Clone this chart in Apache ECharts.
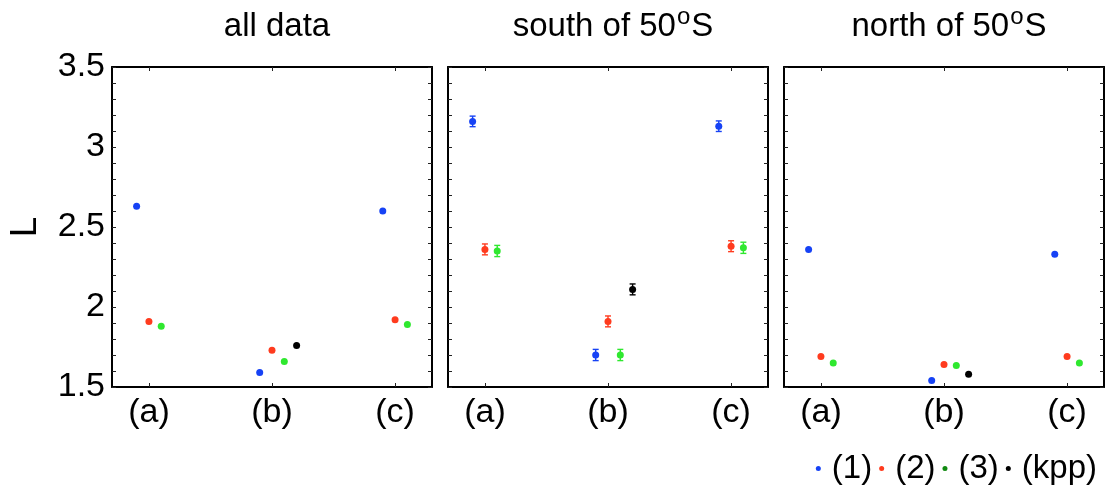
<!DOCTYPE html>
<html>
<head>
<meta charset="utf-8">
<script src="https://cdn.jsdelivr.net/npm/echarts@6/dist/echarts.min.js"></script>
<style>
  html, body { margin: 0; padding: 0; background: #fff; }
  #chart { width: 1106px; height: 492px; }
</style>
</head>
<body>
<div id="chart"></div>
<script>
// Category labels along each panel's x axis
const groups = ['(a)', '(b)', '(c)'];
// Series names shown in the legend
const seriesNames = ['(1)', '(2)', '(3)', '(kpp)'];
// Panel headings ({sup|o} is drawn as a raised "o")
const panelTitles = ['all data', 'south of 50{sup|o}S', 'north of 50{sup|o}S'];
// Y-axis range
const yMin = 1.5, yMax = 3.5, yStep = 0.5;

// all data
const allData1 = [2.63, 1.59, 2.60];
const allData2 = [1.91, 1.73, 1.92];
const allData3 = [1.88, 1.66, 1.89];
const allDataKpp = [null, 1.76, null];

// south of 50S (with error bars)
const south1 = [3.16, 1.70, 3.13];
const south2 = [2.36, 1.91, 2.38];
const south3 = [2.35, 1.70, 2.37];
const southKpp = [null, 2.11, null];
const southErr1 = [0.033, 0.035, 0.033];
const southErr2 = [0.034, 0.034, 0.034];
const southErr3 = [0.035, 0.035, 0.035];
const southErrKpp = [null, 0.034, null];

// north of 50S
const north1 = [2.36, 1.54, 2.33];
const north2 = [1.69, 1.64, 1.69];
const north3 = [1.65, 1.635, 1.65];
const northKpp = [null, 1.58, null];

const panels = [
  { vals: [allData1, allData2, allData3, allDataKpp], errs: null },
  { vals: [south1, south2, south3, southKpp], errs: [southErr1, southErr2, southErr3, southErrKpp] },
  { vals: [north1, north2, north3, northKpp], errs: null }
];

// Styling / layout
const colors = ['#1642f5', '#ff3b1e', '#2fe82f', '#000000'];
const legendColors = ['#1642f5', '#ff3b1e', '#108a10', '#000000'];
const offsets = [-0.1, 0, 0.1, 0.2];
const xRange = [0.7, 3.3];
const gridLefts = [112, 448, 784];
const titleTops = [5, 0, 0];   // headings with a raised "o" have a taller line box
const gridTop = 67, gridSize = 320;
const FONT = 'Liberation Sans, Arial, Helvetica, sans-serif';
const tickPositions = groups.map((g, i) => i + 1);

const grids = [], xAxes = [], yAxes = [], titles = [], series = [];

const axisLineStyle = { show: true, lineStyle: { color: '#000', width: 2 } };
const tickStyle = { lineStyle: { color: '#222', width: 1 } };

panels.forEach((p, i) => {
  grids.push({ left: gridLefts[i], top: gridTop, width: gridSize, height: gridSize, containLabel: false });
  titles.push({
    text: panelTitles[i],
    left: gridLefts[i] + gridSize / 2,
    textAlign: 'center',
    top: titleTops[i],
    textStyle: {
      fontFamily: FONT, fontSize: 33, fontWeight: 'normal', color: '#000',
      rich: { sup: { fontFamily: FONT, fontSize: 24, color: '#000', padding: [0, 1, 19, 1] } }
    }
  });
  // bottom x axis (labels) and top x axis (ticks only)
  ['bottom', 'top'].forEach((pos, k) => {
    xAxes.push({
      type: 'value', gridIndex: i, position: pos, min: xRange[0], max: xRange[1],
      splitLine: { show: false },
      axisLine: axisLineStyle,
      axisTick: { show: true, inside: true, length: 4, customValues: tickPositions, ...tickStyle },
      axisLabel: {
        show: k === 0, customValues: tickPositions, margin: 9,
        formatter: v => groups[Math.round(v) - 1] || '',
        fontFamily: FONT, fontSize: 34, color: '#000'
      }
    });
  });
  // left y axis (labels on first panel) and right y axis (ticks only)
  ['left', 'right'].forEach((pos, k) => {
    yAxes.push({
      type: 'value', gridIndex: i, position: pos, min: yMin, max: yMax, interval: yStep,
      name: (i === 0 && k === 0) ? 'L' : '',
      nameLocation: 'middle', nameGap: 68, nameRotate: 90,
      nameTextStyle: { fontFamily: FONT, fontSize: 37, color: '#000' },
      splitLine: { show: false },
      axisLine: axisLineStyle,
      axisTick: { show: true, inside: true, length: 4, ...tickStyle },
      minorTick: { show: true, splitNumber: 5, length: 4, lineStyle: { color: '#222', width: 1 } },
      axisLabel: {
        show: i === 0 && k === 0, margin: 7,
        formatter: v => String(v),
        fontFamily: FONT, fontSize: 34, color: '#000'
      }
    });
  });

  p.vals.forEach((arr, s) => {
    const pts = [];
    arr.forEach((v, j) => {
      if (v == null) return;
      pts.push([j + 1 + offsets[s], v, p.errs ? p.errs[s][j] : 0]);
    });
    if (p.errs) {
      series.push({
        type: 'custom', name: 'err' + i + s, xAxisIndex: 2 * i, yAxisIndex: 2 * i,
        silent: true, z: 2,
        data: pts,
        encode: { x: 0, y: 1 },
        renderItem: (params, api) => {
          const x = api.value(0), y = api.value(1), e = api.value(2);
          const top = api.coord([x, y + e]);
          const bot = api.coord([x, y - e]);
          const cap = 3;
          const st = { stroke: colors[s], lineWidth: 1.4 };
          return {
            type: 'group',
            children: [
              { type: 'line', shape: { x1: top[0], y1: top[1], x2: bot[0], y2: bot[1] }, style: st },
              { type: 'line', shape: { x1: top[0] - cap, y1: top[1], x2: top[0] + cap, y2: top[1] }, style: st },
              { type: 'line', shape: { x1: bot[0] - cap, y1: bot[1], x2: bot[0] + cap, y2: bot[1] }, style: st }
            ]
          };
        }
      });
    }
    series.push({
      type: 'scatter', name: seriesNames[s], xAxisIndex: 2 * i, yAxisIndex: 2 * i,
      symbol: 'circle', symbolSize: 7, z: 3,
      itemStyle: { color: colors[s], opacity: 1 },
      data: pts.map(d => [d[0], d[1]])
    });
  });
});

const chart = echarts.init(document.getElementById('chart'), null, { renderer: 'canvas' });
chart.setOption({
  animation: false,
  backgroundColor: '#fff',
  title: titles,
  grid: grids,
  xAxis: xAxes,
  yAxis: yAxes,
  legend: {
    right: 4, top: 447, orient: 'horizontal',
    icon: 'circle', itemWidth: 5, itemHeight: 5, itemGap: 7,
    textStyle: { fontFamily: FONT, fontSize: 33, color: '#000', padding: [0, 0, 0, 6] },
    data: seriesNames.map((n, s) => ({ name: n, itemStyle: { color: legendColors[s] } })),
    selectedMode: false
  },
  series: series
});
</script>
</body>
</html>
